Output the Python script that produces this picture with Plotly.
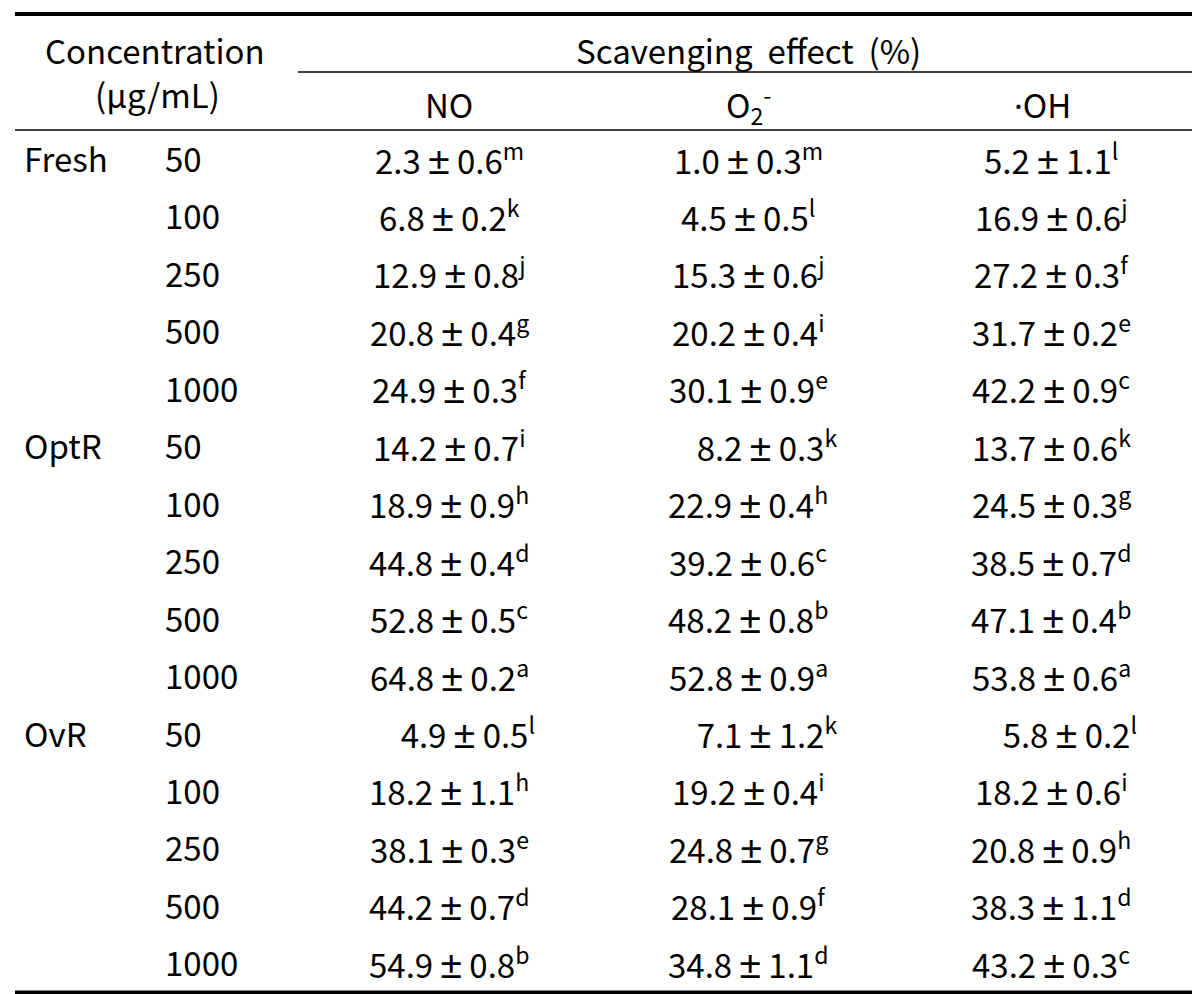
import plotly.graph_objects as go

# ---------------- data ----------------
groups = ["Fresh", "OptR", "OvR"]
concentrations = [50, 100, 250, 500, 1000]
columns = ["NO", "O2-", "OH"]

no_mean = [2.3, 6.8, 12.9, 20.8, 24.9, 14.2, 18.9, 44.8, 52.8, 64.8, 4.9, 18.2, 38.1, 44.2, 54.9]
no_sd = [0.6, 0.2, 0.8, 0.4, 0.3, 0.7, 0.9, 0.4, 0.5, 0.2, 0.5, 1.1, 0.3, 0.7, 0.8]
no_letter = ["m", "k", "j", "g", "f", "i", "h", "d", "c", "a", "l", "h", "e", "d", "b"]

o2_mean = [1.0, 4.5, 15.3, 20.2, 30.1, 8.2, 22.9, 39.2, 48.2, 52.8, 7.1, 19.2, 24.8, 28.1, 34.8]
o2_sd = [0.3, 0.5, 0.6, 0.4, 0.9, 0.3, 0.4, 0.6, 0.8, 0.9, 1.2, 0.4, 0.7, 0.9, 1.1]
o2_letter = ["m", "l", "j", "i", "e", "k", "h", "c", "b", "a", "k", "i", "g", "f", "d"]

oh_mean = [5.2, 16.9, 27.2, 31.7, 42.2, 13.7, 24.5, 38.5, 47.1, 53.8, 5.8, 18.2, 20.8, 38.3, 43.2]
oh_sd = [1.1, 0.6, 0.3, 0.2, 0.9, 0.6, 0.3, 0.7, 0.4, 0.6, 0.2, 0.6, 0.9, 1.1, 0.3]
oh_letter = ["l", "j", "f", "e", "c", "k", "g", "d", "b", "a", "l", "i", "h", "d", "c"]

# ---------------- layout constants ----------------
W, H = 1200, 994
FONT = "Noto Sans CJK KR"
SYMFONT = "Liberation Sans"
FS = 33
COLOR = "#000000"
ROW0 = 152.0
ROW_STEP = 57.45
Y_OFF = -2  # correction from visual centre to annotation box centre
X_GROUP = 14
X_CONC = 155
COL_X = [441, 740, 1043]
HEAD_X = [441, 740, 1034]
LEFT, RIGHT = 7, 1195
PAD = {(0, 10), (1, 5), (1, 10), (2, 10)}  # cells visually indented in the source

PM = f'<span style="font-family:{SYMFONT};font-size:39px">\u00b1</span>'
DOT = '<span style="font-family:Noto Sans">\u00b7</span>'

fig = go.Figure()
fig.add_trace(go.Scatter(x=[0, W], y=[0, H], mode="markers",
                         marker=dict(opacity=0), hoverinfo="skip", showlegend=False))

def ann(x, y, text, anchor="center", size=FS):
    fig.add_annotation(x=x, y=y + Y_OFF, text=text, showarrow=False,
                       xanchor=anchor, yanchor="middle",
                       font=dict(family=FONT, size=size, color=COLOR))

# header texts
ann(147, 43.5, "Concentration")
ann(149, 88, "(\u03bcg/mL)")
ann(740, 43.5, "Scavenging  effect  (%)")
ann(HEAD_X[0], 98, "NO")
ann(HEAD_X[1], 98, "O<sub>2</sub><sup>-</sup>")
ann(HEAD_X[2], 98, DOT + "OH")

# rules
fig.add_shape(type="line", x0=LEFT, x1=RIGHT, y0=6, y1=6, line=dict(color=COLOR, width=4))
fig.add_shape(type="line", x0=290, x1=RIGHT, y0=64, y1=64, line=dict(color=COLOR, width=1.6))
fig.add_shape(type="line", x0=LEFT, x1=RIGHT, y0=122, y1=122, line=dict(color=COLOR, width=1.6))
fig.add_shape(type="line", x0=LEFT, x1=RIGHT, y0=985, y1=985, line=dict(color=COLOR, width=5))

# body
series = [(no_mean, no_sd, no_letter), (o2_mean, o2_sd, o2_letter), (oh_mean, oh_sd, oh_letter)]
row = 0
for g in groups:
    for ci, c in enumerate(concentrations):
        y = ROW0 + row * ROW_STEP
        if ci == 0:
            ann(X_GROUP, y, g, anchor="left")
        ann(X_CONC, y, str(c), anchor="left")
        for k, (m, s, l) in enumerate(series):
            pad = "\u2007\u2007" if (k, row) in PAD else ""
            txt = f"{pad}{m[row]:.1f} {PM} {s[row]:.1f}<sup>{l[row]}</sup>"
            ann(COL_X[k], y, txt)
        row += 1

fig.update_xaxes(range=[0, W], visible=False, fixedrange=True)
fig.update_yaxes(range=[H, 0], visible=False, fixedrange=True)
fig.update_layout(width=W, height=H, margin=dict(l=0, r=0, t=0, b=0),
                  plot_bgcolor="white", paper_bgcolor="white", showlegend=False)

fig.write_html("out.html", config={"displayModeBar": False})
